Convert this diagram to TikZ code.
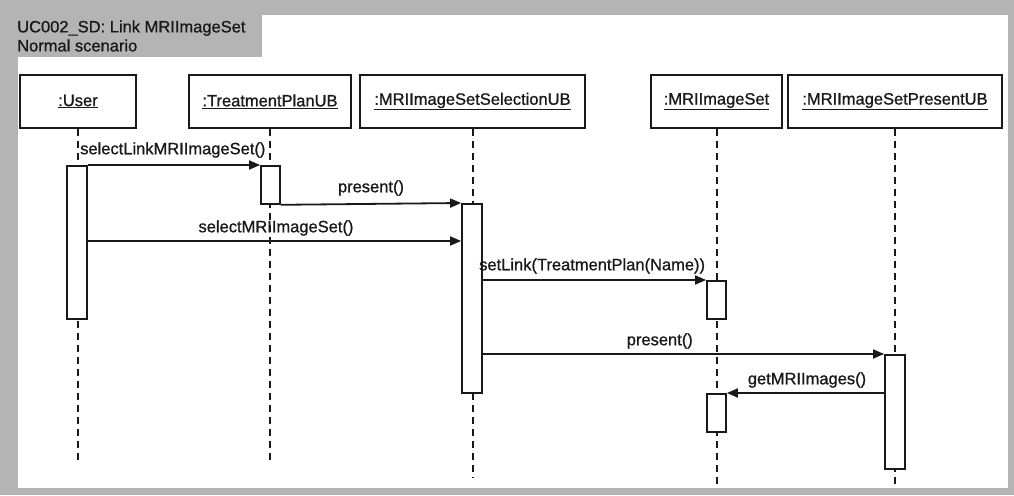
\documentclass[tikz,border=0pt]{standalone}
\usepackage{fontspec}
\setmainfont{Liberation Sans}
\newfontfamily\labelfont{Liberation Sans}[FakeBold=0.9]
\usetikzlibrary{arrows.meta}
\definecolor{framegray}{RGB}{180,180,180}
\definecolor{ink}{RGB}{25,25,25}
\tikzset{
  obj/.style={draw=ink, line width=1.8pt, fill=white, minimum height=53pt, inner sep=0pt, font=\labelfont\fontsize{16.5}{19}\selectfont, text=ink},
  lifeline/.style={draw=ink, line width=2pt, dash pattern=on 7pt off 5pt},
  act/.style={draw=ink, line width=1.8pt, fill=white, inner sep=0pt},
  msg/.style={draw=ink, line width=1.8pt, -{Triangle[length=11pt,width=9pt]}},
  lbl/.style={font=\labelfont\fontsize{16.5}{19}\selectfont, text=ink, inner sep=0pt}
}
\newcommand{\objname}[1]{\underline{#1}}
\begin{document}
\begin{tikzpicture}[x=1pt,y=-1pt]
\useasboundingbox (0,0) rectangle (1014,495);
% frame with name tab
\fill[framegray] (0,0) rectangle (1014,495);
\fill[white] (18,57) rectangle (1008,488);
\fill[white] (262,15) rectangle (1008,57);
\node[lbl, anchor=west, align=left] (title) at (17,36) {UC002\_SD: Link MRIImageSet\\Normal scenario};

% participants
\node[obj, minimum width=116pt] (user) at (78,101.5) {\objname{:User}};
\node[obj, minimum width=162pt] (tp) at (270,101.5) {\objname{:TreatmentPlanUB}};
\node[obj, minimum width=225pt] (sel) at (472.5,101.5) {\objname{:MRIImageSetSelectionUB}};
\node[obj, minimum width=131pt] (set) at (716.5,101.5) {\objname{:MRIImageSet}};
\node[obj, minimum width=214pt] (pres) at (895,101.5) {\objname{:MRIImageSetPresentUB}};

% lifeline ends
\coordinate (userEnd) at (78,464);
\coordinate (tpEnd) at (270,464);
\coordinate (selEnd) at (472.5,478);
\coordinate (setEnd) at (716.5,484);
\coordinate (presEnd) at (895,484);

\draw[lifeline] (user.south) -- (userEnd);
\draw[lifeline] (tp.south) -- (tpEnd);
\draw[lifeline] (sel.south) -- (selEnd);
\draw[lifeline] (set.south) -- (setEnd);
\draw[lifeline] (pres.south) -- (presEnd);

% activation bars
\node[act, minimum width=20pt, minimum height=153pt, anchor=north] (aUser) at (77,165) {};
\node[act, minimum width=19pt, minimum height=38pt, anchor=north] (aTp) at (270.5,165) {};
\node[act, minimum width=20pt, minimum height=189pt, anchor=north] (aSel) at (472,203) {};
\node[act, minimum width=19pt, minimum height=38pt, anchor=north] (aSet1) at (716.5,280) {};
\node[act, minimum width=20pt, minimum height=114pt, anchor=north] (aPres) at (895,354) {};
\node[act, minimum width=19pt, minimum height=38pt, anchor=north] (aSet2) at (716.5,393) {};

% messages
\draw[msg] (aUser.north east) -- (aTp.north west);
\node[lbl, anchor=west] (m1) at (80,150) {selectLinkMRIImageSet()};
\draw[msg] (aTp.south east) -- (aSel.north west);
\node[lbl] (m2) at (371,188) {present()};
\draw[msg] (aUser.east |- 0,241) -- (aSel.west |- 0,241);
\node[lbl] (m3) at (276,228) {selectMRIImageSet()};
\draw[msg] (aSel.east |- aSet1.north) -- (aSet1.north west);
\node[lbl, anchor=west] (m4) at (479,266) {setLink(TreatmentPlan(Name))};
\draw[msg] (aSel.east |- aPres.north) -- (aPres.north west);
\node[lbl, anchor=east] (m5) at (693,341) {present()};
\draw[msg] (aPres.west |- aSet2.north) -- (aSet2.north east);
\node[lbl] (m6) at (807,380) {getMRIImages()};
\end{tikzpicture}
\end{document}
